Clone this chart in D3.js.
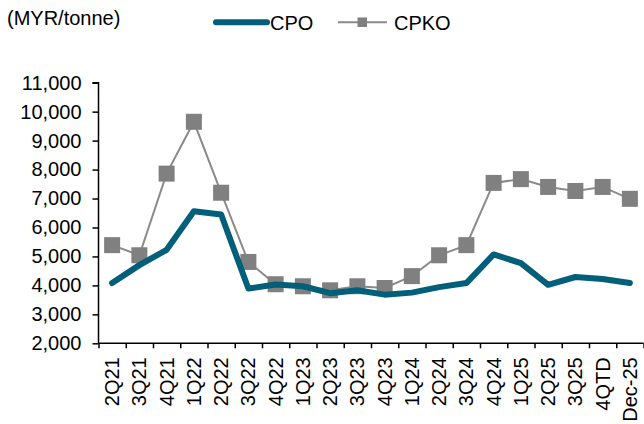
<!DOCTYPE html>
<html>
<head>
<meta charset="utf-8">
<script src="https://cdn.jsdelivr.net/npm/d3@7"></script>
<style>
  html, body { margin: 0; padding: 0; background: #fff; }
  svg { display: block; }
  text { font-family: "Liberation Sans", Arial, sans-serif; fill: #000; }
</style>
</head>
<body>
<svg id="chart" width="644" height="424"></svg>
<script>
const categories = ["2Q21","3Q21","4Q21","1Q22","2Q22","3Q22","4Q22","1Q23","2Q23","3Q23","4Q23","1Q24","2Q24","3Q24","4Q24","1Q25","2Q25","3Q25","4QTD","Dec-25"];
const cpo  = [4080, 4700, 5230, 6560, 6450, 3890, 4030, 3970, 3730, 3830, 3680, 3750, 3940, 4080, 5070, 4770, 4020, 4290, 4220, 4080];
const cpko = [5390, 5040, 7860, 9650, 7200, 4810, 4040, 3970, 3830, 3970, 3910, 4320, 5040, 5390, 7540, 7670, 7400, 7260, 7400, 6990];
const yTicks = [2000, 3000, 4000, 5000, 6000, 7000, 8000, 9000, 10000, 11000];
const seriesNames = ["CPO", "CPKO"];
const unitLabel = "(MYR/tonne)";

const CPO_COLOR = "#025F7A";
const CPKO_COLOR = "#808080";

const svg = d3.select("#chart");

const x = d3.scaleBand().domain(categories).range([98.5, 643.5]).padding(0);
const xb = d3.scaleLinear().domain([0, categories.length]).range([98.5, 643.5]);
const y = d3.scaleLinear().domain([2000, 11000]).range([343.3, 82.7]);
const cx = c => x(c) + x.bandwidth() / 2;

// Y axis
const yAxis = svg.append("g")
  .attr("transform", "translate(98.5,0)")
  .call(d3.axisLeft(y).tickValues(yTicks).tickSize(6).tickPadding(11).tickFormat(d3.format(",")));
yAxis.selectAll("text").attr("font-size", 20).attr("font-family", "'Liberation Sans', Arial, sans-serif").attr("fill", "#000");
yAxis.selectAll("line").attr("stroke", "#000").attr("stroke-width", 1.5);
yAxis.select(".domain").attr("stroke", "#000").attr("stroke-width", 1.5).attr("d", `M-6,${y(11000)}H0V${y(2000)}`);

// X axis ticks at category boundaries
const xTickAxis = svg.append("g")
  .attr("transform", `translate(0,${y(2000)})`)
  .call(d3.axisBottom(xb).tickValues(d3.range(0, categories.length + 1)).tickSize(5).tickFormat(""));
xTickAxis.selectAll("line").attr("stroke", "#000").attr("stroke-width", 1.5);
xTickAxis.select(".domain").attr("stroke", "#000").attr("stroke-width", 1.5).attr("d", `M98.5,0H643.5`);

// X labels
const xLab = svg.append("g")
  .attr("transform", `translate(0,${y(2000)})`)
  .call(d3.axisBottom(x).tickSize(0).tickPadding(0));
xLab.select(".domain").remove();
xLab.selectAll("text")
  .attr("font-size", 20)
  .attr("font-family", "'Liberation Sans', Arial, sans-serif")
  .attr("fill", "#000")
  .attr("text-anchor", "end")
  .attr("transform", "rotate(-90)")
  .attr("x", -14)
  .attr("y", 0)
  .attr("dy", "0.35em");

// CPKO line + markers
const line = d3.line().x((d, i) => cx(categories[i])).y(d => y(d));
svg.append("path")
  .datum(cpko)
  .attr("d", line)
  .attr("fill", "none")
  .attr("stroke", "#8A8A8A")
  .attr("stroke-width", 2);
svg.append("g").selectAll("rect")
  .data(cpko)
  .join("rect")
  .attr("x", (d, i) => cx(categories[i]) - 8)
  .attr("y", d => y(d) - 8)
  .attr("width", 16)
  .attr("height", 16)
  .attr("fill", CPKO_COLOR);

// CPO line
svg.append("path")
  .datum(cpo)
  .attr("d", line)
  .attr("fill", "none")
  .attr("stroke", CPO_COLOR)
  .attr("stroke-width", 6)
  .attr("stroke-linejoin", "round")
  .attr("stroke-linecap", "round");

// Unit label
svg.append("text")
  .attr("x", 7).attr("y", 25)
  .attr("font-size", 20)
  .text(unitLabel);

// Legend
const lg = svg.append("g");
lg.append("line")
  .attr("x1", 216).attr("x2", 267).attr("y1", 22.3).attr("y2", 22.3)
  .attr("stroke", CPO_COLOR).attr("stroke-width", 6).attr("stroke-linecap", "round");
lg.append("text").attr("x", 270).attr("y", 29.5).attr("font-size", 20).text(seriesNames[0]);
lg.append("line")
  .attr("x1", 338).attr("x2", 387).attr("y1", 22.3).attr("y2", 22.3)
  .attr("stroke", "#8A8A8A").attr("stroke-width", 2);
lg.append("rect")
  .attr("x", 357.5).attr("y", 17.5).attr("width", 9.5).attr("height", 9.5)
  .attr("fill", CPKO_COLOR);
lg.append("text").attr("x", 394).attr("y", 29.5).attr("font-size", 20).text(seriesNames[1]);
</script>
</body>
</html>
